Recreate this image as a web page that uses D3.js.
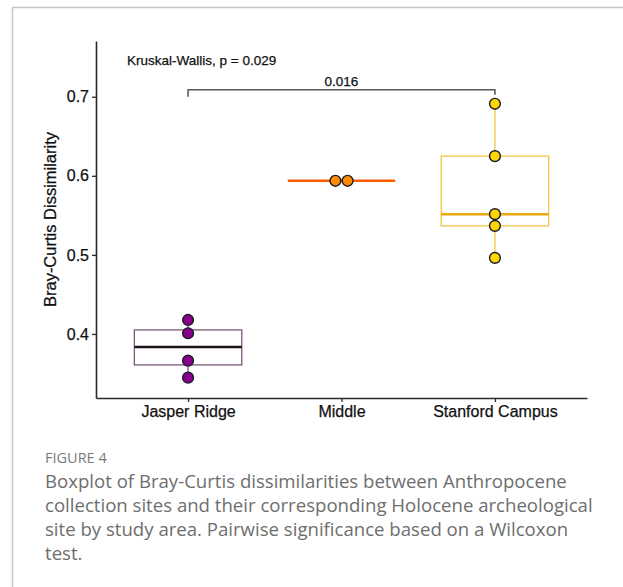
<!DOCTYPE html>
<html>
<head>
<meta charset="utf-8">
<script src="https://cdn.jsdelivr.net/npm/d3@7"></script>
<style>
  body { margin: 0; background: #fff; }
  svg { display: block; }
</style>
</head>
<body>
<svg id="chart" width="623" height="587"></svg>
<script>
// Data
var groups = ["Jasper Ridge", "Middle", "Stanford Campus"];
var jasperValues = [0.4177, 0.4009, 0.3662, 0.3447];
var middleValues = [0.5937, 0.5937];
var stanfordValues = [0.6911, 0.6249, 0.5515, 0.5367, 0.4962];
var yTicks = [0.4, 0.5, 0.6, 0.7];
var kruskalText = "Kruskal-Wallis, p = 0.029";
var pairLabel = "0.016";
var captionTitle = "FIGURE 4";
var captionLines = [
    "Boxplot of Bray-Curtis dissimilarities between Anthropocene",
    "collection sites and their corresponding Holocene archeological",
    "site by study area. Pairwise significance based on a Wilcoxon",
    "test."
];

// colours per group: box outline, median, point fill
var boxColours = ["#7a5a7a", "#ff5a00", "#f2c442"];
var medianColours = ["#1e141e", "#ff5a00", "#e8aa10"];
var pointColours = ["#8b008b", "#ff8c00", "#ffd700"];

var allValues = [jasperValues, middleValues, stanfordValues];

function Init() {
    var svg = d3.select("#chart");

    // page frame
    svg.append("line").attr("x1", 12).attr("x2", 623).attr("y1", 7.5).attr("y2", 7.5)
       .attr("stroke", "#c4c4c4").attr("stroke-width", 1.5);
    svg.append("line").attr("x1", 12.5).attr("x2", 12.5).attr("y1", 7).attr("y2", 587)
       .attr("stroke", "#c4c4c4").attr("stroke-width", 1.5);

    var plot = {left: 96, right: 587, top: 41, bottom: 398};

    var yScale = d3.scaleLinear().domain([0.319, 0.7705]).range([plot.bottom, plot.top]);
    var xScale = d3.scalePoint().domain(groups).range([plot.left, plot.right]).padding(0.6);
    var step = xScale.step();
    var boxW = step * 0.7;

    // Boxes
    var g = svg.append("g");
    groups.forEach(function(name, i) {
        var vals = allValues[i].slice().sort(d3.ascending);
        var q1 = d3.quantile(vals, 0.25);
        var med = d3.quantile(vals, 0.5);
        var q3 = d3.quantile(vals, 0.75);
        var lo = d3.min(vals), hi = d3.max(vals);
        var cx = xScale(name);

        // whiskers
        g.append("line").attr("x1", cx).attr("x2", cx)
         .attr("y1", yScale(q3)).attr("y2", yScale(hi))
         .attr("stroke", boxColours[i]).attr("stroke-width", 1.3);
        g.append("line").attr("x1", cx).attr("x2", cx)
         .attr("y1", yScale(q1)).attr("y2", yScale(lo))
         .attr("stroke", boxColours[i]).attr("stroke-width", 1.3);

        g.append("rect")
         .attr("x", cx - boxW / 2).attr("width", boxW)
         .attr("y", yScale(q3)).attr("height", Math.max(0, yScale(q1) - yScale(q3)))
         .attr("fill", "none")
         .attr("stroke", boxColours[i]).attr("stroke-width", q3 > q1 ? 1.3 : 2.5);

        g.append("line")
         .attr("x1", cx - boxW / 2).attr("x2", cx + boxW / 2)
         .attr("y1", yScale(med)).attr("y2", yScale(med))
         .attr("stroke", medianColours[i]).attr("stroke-width", 2.5);
    });

    // Points, stacked side by side when values coincide
    var r = 5.4;
    groups.forEach(function(name, i) {
        var counts = d3.rollup(allValues[i], function(v) { return v.length; }, function(d) { return d; });
        var seen = new Map();
        allValues[i].forEach(function(v) {
            var n = counts.get(v);
            var k = seen.get(v) || 0;
            seen.set(v, k + 1);
            var off = (k - (n - 1) / 2) * (2 * r + 1.4);
            g.append("circle")
             .attr("cx", xScale(name) + off)
             .attr("cy", yScale(v))
             .attr("r", r)
             .attr("fill", pointColours[i])
             .attr("stroke", "#1b1b2b")
             .attr("stroke-width", 1.4);
        });
    });

    // Axes
    var yAxis = svg.append("g")
       .attr("transform", "translate(" + plot.left + ",0)")
       .call(d3.axisLeft(yScale).tickValues(yTicks).tickFormat(d3.format(".1f"))
             .tickSize(4).tickSizeOuter(0).tickPadding(3));
    var xAxis = svg.append("g")
       .attr("transform", "translate(0," + plot.bottom + ")")
       .call(d3.axisBottom(xScale).tickSize(4).tickSizeOuter(0).tickPadding(4));

    [yAxis, xAxis].forEach(function(a) {
        a.select(".domain").attr("stroke", "#2a2a2a").attr("stroke-width", 1.6);
        a.selectAll(".tick line").attr("stroke", "#2a2a2a").attr("stroke-width", 1.3);
        a.selectAll(".tick text")
         .style("font-family", "'Liberation Sans', Arial, sans-serif")
         .style("font-size", "16px")
         .attr("fill", "#111")
         .attr("stroke", "#111").attr("stroke-width", 0.25);
    });

    // Axis title
    svg.append("text")
       .attr("transform", "translate(56," + ((plot.top + plot.bottom) / 2) + ") rotate(-90)")
       .attr("text-anchor", "middle")
       .style("font-family", "'Liberation Sans', Arial, sans-serif")
       .style("font-size", "16.5px")
       .attr("fill", "#111")
       .attr("stroke", "#111").attr("stroke-width", 0.25)
       .text("Bray-Curtis Dissimilarity");

    // Kruskal-Wallis label
    svg.append("text")
       .attr("x", 127).attr("y", 65)
       .style("font-family", "'Liberation Sans', Arial, sans-serif")
       .style("font-size", "13.5px")
       .attr("fill", "#111")
       .attr("stroke", "#111").attr("stroke-width", 0.25)
       .text(kruskalText);

    // Pairwise bracket
    var bx1 = xScale(groups[0]), bx2 = xScale(groups[2]);
    var bTop = yScale(0.7089), bLow = yScale(0.7);
    svg.append("path")
       .attr("d", "M" + bx1 + "," + bLow + "V" + bTop + "H" + bx2 + "V" + yScale(0.7025))
       .attr("fill", "none").attr("stroke", "#555").attr("stroke-width", 1.5);
    svg.append("text")
       .attr("x", (bx1 + bx2) / 2).attr("y", bTop - 4)
       .attr("text-anchor", "middle")
       .style("font-family", "'Liberation Sans', Arial, sans-serif")
       .style("font-size", "13.5px")
       .attr("fill", "#111")
       .attr("stroke", "#111").attr("stroke-width", 0.25)
       .text(pairLabel);

    // Caption
    svg.append("text")
       .attr("x", 45).attr("y", 463)
       .style("font-family", "'Open Sans', 'Noto Sans', sans-serif")
       .style("font-size", "14.5px")
       .style("font-weight", 500)
       .attr("fill", "#7a7a7a")
       .text(captionTitle);
    svg.append("g").selectAll("text").data(captionLines).enter()
       .append("text")
       .attr("x", 45)
       .attr("y", function(d, i) { return 488 + i * 24; })
       .style("font-family", "'Open Sans', 'Noto Sans', sans-serif")
       .style("font-size", "18.6px")
       .attr("fill", "#6e6e6e")
       .text(function(d) { return d; });
}

Init();
</script>
</body>
</html>
